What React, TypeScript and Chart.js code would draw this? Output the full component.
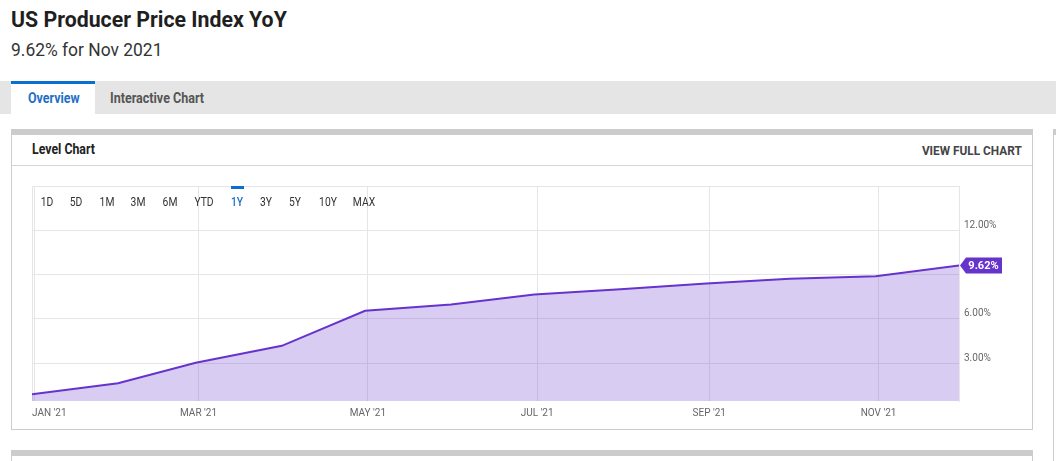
import React, { useEffect, useRef } from "react";
import { Chart, registerables } from "chart.js";

Chart.register(...registerables);

// ---- data ----
const dates = [
  "2020-12-31", "2021-01-31", "2021-02-28", "2021-03-31", "2021-04-30", "2021-05-31",
  "2021-06-30", "2021-07-31", "2021-08-31", "2021-09-30", "2021-10-31", "2021-11-30",
];
const values = [0.88, 1.63, 3.02, 4.17, 6.54, 6.97, 7.65, 8.0, 8.4, 8.72, 8.89, 9.62];
const xTickDates = ["2021-01-01", "2021-03-01", "2021-05-01", "2021-07-01", "2021-09-01", "2021-11-01"];
const xTickLabels = ["JAN '21", "MAR '21", "MAY '21", "JUL '21", "SEP '21", "NOV '21"];
const yTicks = [3, 6, 9, 12, 15];
const yMin = 0.43;
const yMax = 15;
const ranges = ["1D", "5D", "1M", "3M", "6M", "YTD", "1Y", "3Y", "5Y", "10Y", "MAX"];
const rangeCenters = [47, 76, 107, 138, 170, 204, 237, 266, 295, 328, 364];
const activeRange = "1Y";
const lastLabel = "9.62%";

const ts = (s: string) => Date.parse(s + "T00:00:00Z");

const LINE = "#6633cc";
const FILL = "rgba(102,51,204,0.25)";
const GRID = "#e6e6e6";
const FONT = "Roboto, 'Noto Sans', sans-serif";

function LevelChart() {
  const ref = useRef<HTMLCanvasElement | null>(null);
  useEffect(() => {
    if (!ref.current) return;
    const lastVal = values[values.length - 1];
    const xLabelPlugin = {
      id: "xLabels",
      afterDraw(chart: any) {
        const { ctx, chartArea, scales } = chart;
        const sx = scales.x;
        ctx.save();
        ctx.font = `10px ${FONT}`;
        ctx.fillStyle = "#666";
        ctx.textBaseline = "middle";
        ctx.textAlign = "left";
        xTickDates.forEach((d, i) => {
          const px = sx.getPixelForValue(ts(d));
          const w = ctx.measureText(xTickLabels[i]).width;
          let left = px - w / 2;
          if (left < chartArea.left) left = chartArea.left;
          if (left + w > chartArea.right) left = chartArea.right - w;
          ctx.fillText(xTickLabels[i], left, chartArea.bottom + 12);
        });
        ctx.restore();
      },
    };
    const badgePlugin = {
      id: "badge",
      afterDatasetsDraw(chart: any) {
        const meta = chart.getDatasetMeta(0);
        const pt = meta.data[meta.data.length - 1];
        if (!pt) return;
        const { ctx } = chart;
        const x = pt.x + 1;
        const y = pt.y;
        ctx.save();
        ctx.fillStyle = LINE;
        ctx.beginPath();
        ctx.moveTo(x, y);
        ctx.lineTo(x + 6, y - 8);
        ctx.lineTo(x + 42, y - 8);
        ctx.lineTo(x + 42, y + 8);
        ctx.lineTo(x + 6, y + 8);
        ctx.closePath();
        ctx.fill();
        ctx.fillStyle = "#fff";
        ctx.font = `bold 11px ${FONT}`;
        ctx.textAlign = "center";
        ctx.textBaseline = "middle";
        ctx.fillText(lastLabel, x + 23.5, y + 0.5);
        ctx.restore();
      },
    };
    const chart = new Chart(ref.current, {
      type: "line",
      data: {
        datasets: [
          {
            data: dates.map((d, i) => ({ x: ts(d), y: values[i] })),
            borderColor: LINE,
            backgroundColor: FILL,
            borderWidth: 2,
            pointRadius: 0,
            fill: "start",
            tension: 0,
          },
        ],
      },
      options: {
        animation: false,
        responsive: true,
        maintainAspectRatio: false,
        layout: { padding: { left: 20, top: 20, right: 0, bottom: 0 } },
        plugins: { legend: { display: false }, tooltip: { enabled: false } },
        scales: {
          x: {
            type: "linear",
            min: ts(dates[0]),
            max: ts(dates[dates.length - 1]),
            afterBuildTicks: (scale: any) => {
              scale.ticks = [ts(dates[0]), ...xTickDates.map(ts)].map((v) => ({ value: v }));
            },
            afterFit: (scale: any) => {
              scale.height = 27;
            },
            ticks: { display: false },
            grid: { color: GRID, drawTicks: false, lineWidth: 1 },
            border: { display: false },
          },
          y: {
            position: "right",
            min: yMin,
            max: yMax,
            afterBuildTicks: (scale: any) => {
              scale.ticks = yTicks.map((v) => ({ value: v }));
            },
            afterFit: (scale: any) => {
              scale.width = 72;
            },
            ticks: {
              padding: 5,
              labelOffset: -5,
              color: "#666",
              font: { family: FONT, size: 10 },
              callback: (v: any) => {
                const n = Number(v);
                if (n >= yMax) return "";
                if (Math.abs(n - lastVal) < 1.2) return "";
                return n.toFixed(2) + "%";
              },
            },
            grid: { color: GRID, drawTicks: false, lineWidth: 1 },
            border: { display: true, color: GRID },
          },
        },
      },
      plugins: [xLabelPlugin, badgePlugin],
    } as any);
    return () => chart.destroy();
  }, []);
  return <canvas ref={ref} />;
}

export default function App() {
  const abs = (s: React.CSSProperties): React.CSSProperties => ({ position: "absolute", ...s });
  const sx = (k: number, origin = "left center"): React.CSSProperties => ({
    transform: `scaleX(${k})`,
    transformOrigin: origin,
    whiteSpace: "nowrap",
  });
  return (
    <div
      style={{
        position: "absolute",
        left: 0,
        top: 0,
        width: 1056,
        height: 461,
        overflow: "hidden",
        background: "#fff",
        fontFamily: FONT,
        color: "#222",
      }}
    >
      <div style={abs({ left: 11, top: 6, fontSize: 22, fontWeight: 700, lineHeight: "28px", color: "#1f1f1f", ...sx(0.968) })}>
        US Producer Price Index YoY
      </div>
      <div style={abs({ left: 11, top: 38, fontSize: 18, lineHeight: "24px", color: "#333", ...sx(0.968) })}>
        9.62% for Nov 2021
      </div>
      {/* tab bar */}
      <div style={abs({ left: 0, top: 81, width: 1056, height: 33, background: "#e5e5e5" })} />
      <div
        style={abs({
          left: 11,
          top: 81,
          width: 84,
          height: 33,
          background: "#fff",
          borderTop: "3px solid #0a6fd0",
          boxSizing: "border-box",
        })}
      />
      <div style={abs({ left: 28, top: 84, fontSize: 14, fontWeight: 700, color: "#1f6fc6", lineHeight: "28px", ...sx(0.89) })}>
        Overview
      </div>
      <div style={abs({ left: 110, top: 84, fontSize: 14, fontWeight: 700, color: "#555", lineHeight: "28px", ...sx(0.895) })}>
        Interactive Chart
      </div>
      {/* card */}
      <div
        style={abs({
          left: 11,
          top: 129,
          width: 1022,
          height: 301,
          borderTop: "6px solid #cccccc",
          borderLeft: "1px solid #cccccc",
          borderRight: "1px solid #cccccc",
          borderBottom: "1px solid #cccccc",
          boxSizing: "border-box",
          background: "#fff",
        })}
      />
      <div style={abs({ left: 12, top: 165, width: 1020, height: 1, background: "#d4d4d4" })} />
      <div style={abs({ left: 32, top: 141, fontSize: 14, fontWeight: 700, color: "#222", lineHeight: "17px", ...sx(0.88) })}>
        Level Chart
      </div>
      <div style={abs({ right: 1056 - 1022, top: 142, fontSize: 13, fontWeight: 700, color: "#444", lineHeight: "17px", ...sx(0.91, "right center") })}>
        VIEW FULL CHART
      </div>
      <div style={abs({ left: 12, top: 166, width: 1019, height: 262 })}>
        <LevelChart />
      </div>
      {/* range buttons */}
      {ranges.map((r, i) => (
        <div
          key={r}
          style={abs({
            left: rangeCenters[i],
            top: 195,
            fontSize: 12,
            lineHeight: "14px",
            color: r === activeRange ? "#1f6fc6" : "#333",
            fontWeight: r === activeRange ? 500 : 400,
            transform: "translateX(-50%) scaleX(0.86)",
            transformOrigin: "center center",
            whiteSpace: "nowrap",
          })}
        >
          {r}
        </div>
      ))}
      <div style={abs({ left: 231, top: 186, width: 13, height: 3, background: "#0a6fd0" })} />
      {/* next card */}
      <div
        style={abs({
          left: 11,
          top: 450,
          width: 1022,
          height: 40,
          borderTop: "6px solid #cccccc",
          borderLeft: "1px solid #cccccc",
          borderRight: "1px solid #cccccc",
          boxSizing: "border-box",
        })}
      />
      {/* right side card */}
      <div
        style={abs({
          left: 1053,
          top: 129,
          width: 20,
          height: 400,
          borderTop: "6px solid #cccccc",
          borderLeft: "1px solid #cccccc",
          boxSizing: "border-box",
        })}
      />
    </div>
  );
}
